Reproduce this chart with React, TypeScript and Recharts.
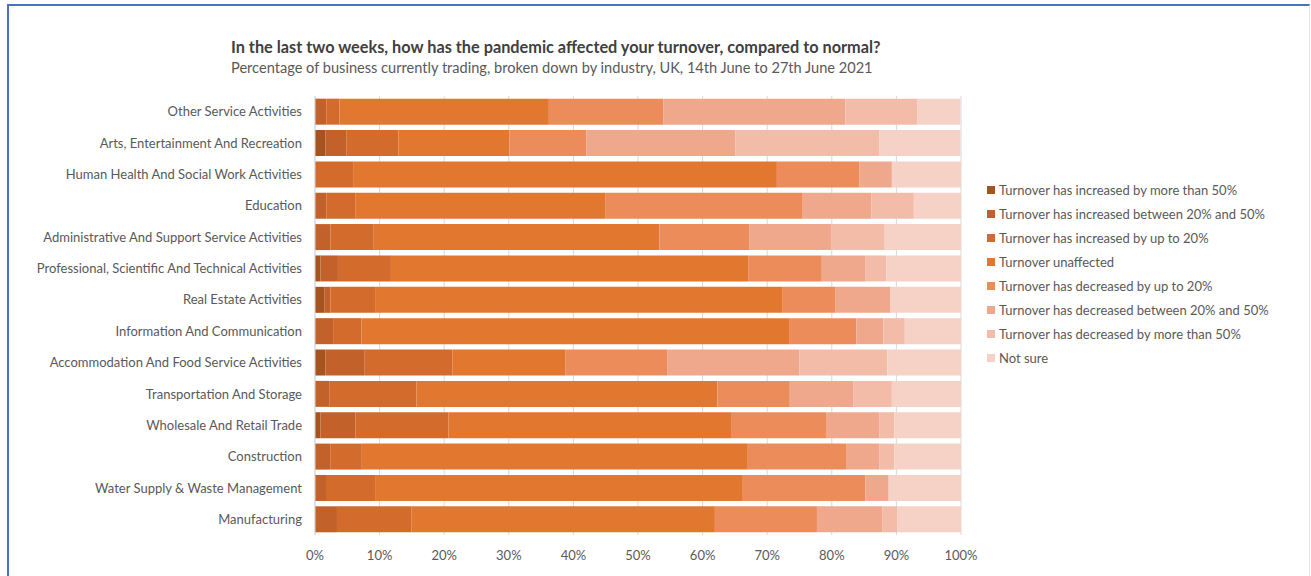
import React from "react";
import {
  BarChart,
  Bar,
  XAxis,
  YAxis,
  CartesianGrid,
} from "recharts";

const industries = [
  "Other Service Activities",
  "Arts, Entertainment And Recreation",
  "Human Health And Social Work Activities",
  "Education",
  "Administrative And Support Service Activities",
  "Professional, Scientific And Technical Activities",
  "Real Estate Activities",
  "Information And Communication",
  "Accommodation And Food Service Activities",
  "Transportation And Storage",
  "Wholesale And Retail Trade",
  "Construction",
  "Water Supply & Waste Management",
  "Manufacturing",
];

const incMore50 = [0, 1.6, 0, 0, 0, 0.85, 1.5, 0, 1.6, 0, 0.85, 0, 0, 0];
const inc20to50 = [1.8, 3.3, 0, 1.8, 2.4, 2.7, 0.9, 2.8, 6.1, 2.2, 5.4, 2.35, 1.7, 3.4];
const incUpTo20 = [2.0, 8.0, 5.9, 4.5, 6.7, 8.2, 6.9, 4.4, 13.6, 13.5, 14.4, 4.9, 7.6, 11.5];
const unaffected = [32.4, 17.2, 65.6, 38.7, 44.2, 55.3, 63.0, 66.3, 17.5, 46.6, 43.75, 59.75, 56.8, 47.0];
const decUpTo20 = [17.7, 11.9, 12.8, 30.5, 13.9, 11.4, 8.2, 10.3, 15.7, 11.2, 14.7, 15.2, 19.1, 15.8];
const dec20to50 = [28.2, 23.1, 5.0, 10.6, 12.7, 6.8, 8.6, 4.2, 20.5, 9.8, 8.3, 5.2, 3.6, 10.1];
const decMore50 = [11.1, 22.3, 0, 6.6, 8.3, 3.2, 0, 3.3, 13.6, 6.0, 2.3, 2.3, 0, 2.3];
const notSure = [6.7, 12.5, 10.7, 7.3, 11.8, 11.6, 10.9, 8.7, 11.4, 10.7, 10.3, 10.3, 11.2, 9.9];

const xTicks = [0, 10, 20, 30, 40, 50, 60, 70, 80, 90, 100];

const series = [
  { key: "incMore50", name: "Turnover has increased by more than 50%", values: incMore50, color: "#a6531f" },
  { key: "inc20to50", name: "Turnover has increased between 20% and 50%", values: inc20to50, color: "#c2612a" },
  { key: "incUpTo20", name: "Turnover has increased by up to 20%", values: incUpTo20, color: "#d26b2c" },
  { key: "unaffected", name: "Turnover unaffected", values: unaffected, color: "#e2772f" },
  { key: "decUpTo20", name: "Turnover has decreased by up to 20%", values: decUpTo20, color: "#ec8c5a" },
  { key: "dec20to50", name: "Turnover has decreased between 20% and 50%", values: dec20to50, color: "#efa88c" },
  { key: "decMore50", name: "Turnover has decreased by more than 50%", values: decMore50, color: "#f3bca8" },
  { key: "notSure", name: "Not sure", values: notSure, color: "#f6d2c6" },
];

const chartData = industries.map((name, i) => {
  const row: Record<string, string | number> = { name };
  series.forEach((s) => {
    row[s.key] = s.values[i];
  });
  return row;
});

const FONT = "Lato, 'Open Sans', sans-serif";

export default function App() {
  return (
    <div
      style={{
        position: "fixed",
        left: 0,
        top: 0,
        width: 1311,
        height: 576,
        background: "#fff",
        fontFamily: FONT,
        overflow: "hidden",
      }}
    >
      {/* frame */}
      <div
        style={{
          position: "absolute",
          left: 7,
          top: 4,
          width: 1300,
          height: 580,
          borderLeft: "2px solid #4a72c0",
          borderTop: "2px solid #4a72c0",
          borderRight: "1px solid #e4e4e4",
        }}
      />

      <div
        style={{
          position: "absolute",
          left: 231,
          top: 37,
          fontSize: 16.3,
          fontWeight: 700,
          color: "#404040",
          whiteSpace: "nowrap",
        }}
      >
        In the last two weeks, how has the pandemic affected your turnover, compared to normal?
      </div>
      <div
        style={{
          position: "absolute",
          left: 231,
          top: 59,
          fontSize: 14.6,
          color: "#595959",
          whiteSpace: "nowrap",
        }}
      >
        Percentage of business currently trading, broken down by industry, UK, 14th June to 27th June 2021
      </div>

      <div style={{ position: "absolute", left: 0, top: 0 }}>
        <BarChart
          width={1311}
          height={576}
          data={chartData}
          layout="vertical"
          barCategoryGap="8.5%"
          margin={{ top: 96, right: 350, left: 0, bottom: 11 }}
        >
          <CartesianGrid horizontal={false} stroke="#d9d9d9" />
          <XAxis
            type="number"
            domain={[0, 100]}
            ticks={xTicks}
            allowDataOverflow
            tickFormatter={(v: number) => `${v}%`}
            axisLine={false}
            tickLine={false}
            tickMargin={10}
            height={30}
            tick={{ fontSize: 13, fill: "#595959", fontFamily: FONT }}
          />
          <YAxis
            type="category"
            dataKey="name"
            width={315}
            axisLine={{ stroke: "#d9d9d9" }}
            tickLine={false}
            tickMargin={7}
            interval={0}
            tick={{ fontSize: 13, fill: "#595959", fontFamily: FONT }}
          />
          {series.map((s) => (
            <Bar
              key={s.key}
              dataKey={s.key}
              name={s.name}
              stackId="a"
              fill={s.color}
              isAnimationActive={false}
            />
          ))}
        </BarChart>
      </div>

      <div style={{ position: "absolute", left: 987, top: 178 }}>
        {series.map((s) => (
          <div
            key={s.key}
            style={{
              height: 24,
              display: "flex",
              alignItems: "center",
              fontSize: 13,
              color: "#595959",
              whiteSpace: "nowrap",
            }}
          >
            <span
              style={{
                display: "inline-block",
                width: 8,
                height: 8,
                background: s.color,
                marginRight: 4,
              }}
            />
            {s.name}
          </div>
        ))}
      </div>
    </div>
  );
}
